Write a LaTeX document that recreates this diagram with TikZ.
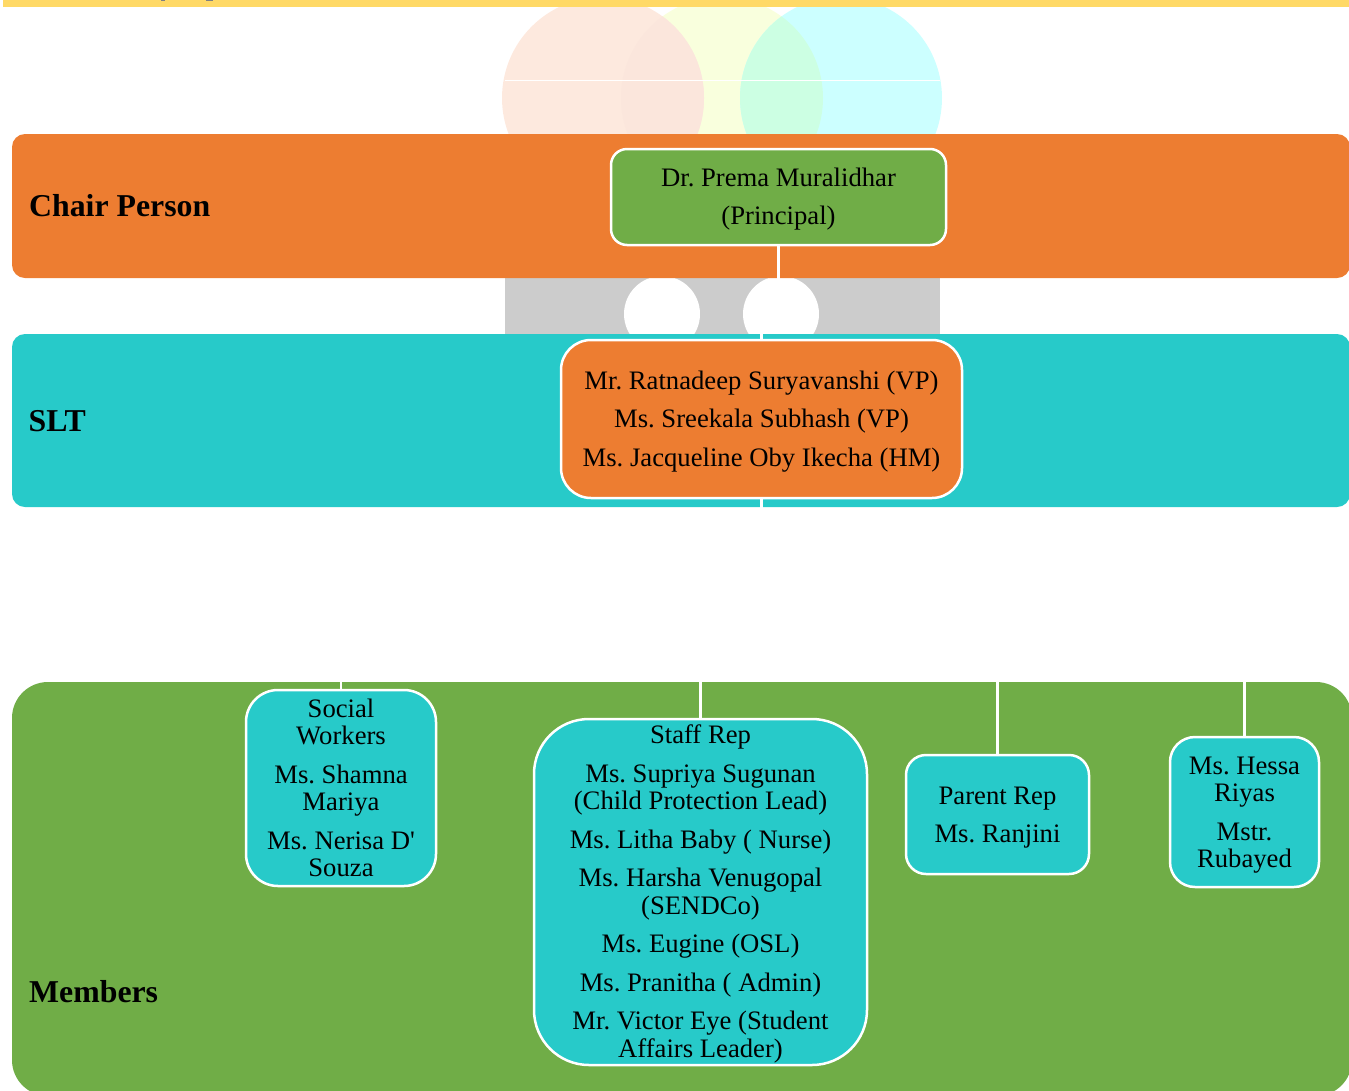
\documentclass[tikz,border=0pt]{standalone}
\usepackage{fontspec}
\setmainfont{Liberation Serif}
\definecolor{cOrange}{HTML}{ED7D31}
\definecolor{cTeal}{HTML}{27CAC9}
\definecolor{cGreen}{HTML}{70AD47}
\definecolor{cBar}{HTML}{FFD966}
\definecolor{cPink}{HTML}{FDE9DE}
\definecolor{cLens}{HTML}{FBE6DC}
\definecolor{cPale}{HTML}{F9FFDD}
\definecolor{cCyan}{HTML}{CCFFFF}
\definecolor{cMint}{HTML}{CCFFE3}
\tikzset{
  member/.style={draw=white,line width=2.5pt,inner sep=0pt,outer sep=0pt,
    font=\fontsize{26.67}{27.5}\selectfont\frenchspacing,text=black},
  bandlabel/.style={anchor=west,inner sep=0pt,font=\fontsize{31.8}{36}\selectfont\bfseries,text=black},
  link/.style={draw=white,line width=2.5pt},
}
\newcommand{\pgap}{\\[11pt]}
\newcommand{\lowered}[2]{\raisebox{-#1}[\height][\depth]{\begin{tabular}{@{}c@{}}#2\end{tabular}}}
\begin{document}
\begin{tikzpicture}[x=1pt,y=-1pt]
\useasboundingbox (0,0) rectangle (1349,1090);
% top bar
\fill[cBar] (3,0) rectangle (1349,7);
\fill[gray] (161,0) rectangle (165,1);
\fill[gray] (206,0) rectangle (213,1.2);
% faded logo
\begin{scope}
  \clip (495,7) rectangle (950,134);
  \fill[cPale] (722,98) circle (101);
  \fill[cPink] (603,98) circle (101);
  \fill[cCyan] (841,98) circle (101);
  \begin{scope}
    \clip (722,98) circle (101);
    \fill[cLens] (603,98) circle (101);
    \fill[cMint] (841,98) circle (101);
  \end{scope}
  \fill[white] (505,79.7) rectangle (940,80.7);
\end{scope}
\fill[black!20] (505,278) rectangle (940,334);
\begin{scope}
  \clip (505,278) rectangle (940,334);
  \fill[white] (662,314) circle (38);
  \fill[white] (781,314) circle (38);
\end{scope}
% bands
\fill[cOrange,rounded corners=13pt] (12,134) rectangle (1350,278);
\fill[cTeal,rounded corners=13pt] (12,334) rectangle (1350,507);
\fill[cGreen,rounded corners=36pt] (12,682) rectangle (1352,1096);
% labels
\node[bandlabel] (lchair) at (29,205.5) {Chair Person};
\node[bandlabel] (lslt) at (28.5,421) {SLT};
\node[bandlabel] (lmem) at (29,991.5) {Members};
% boxes
\node[member,fill=cGreen,rounded corners=16pt,minimum width=335pt,minimum height=96pt]
  (chair) at (778.5,197) {\lowered{3pt}{Dr. Prema Muralidhar\pgap(Principal)}};
\node[member,fill=cOrange,rounded corners=30pt,minimum width=401pt,minimum height=158pt]
  (slt) at (761.5,419) {\lowered{3pt}{Mr. Ratnadeep Suryavanshi (VP)\pgap Ms. Sreekala Subhash (VP)\pgap Ms. Jacqueline Oby Ikecha (HM)}};
\node[member,fill=cTeal,rounded corners=32pt,minimum width=190pt,minimum height=196pt]
  (sw) at (341,788) {\lowered{3.5pt}{Social\\Workers\pgap Ms. Shamna\\Mariya\pgap Ms. Nerisa D\textquotesingle\\Souza}};
\node[member,fill=cTeal,rounded corners=55pt,minimum width=333pt,minimum height=346pt]
  (staff) at (700.5,892) {\lowered{3pt}{Staff Rep\pgap Ms. Supriya Sugunan\\(Child Protection Lead)\pgap Ms. Litha Baby ( Nurse)\pgap Ms. Harsha Venugopal\\(SENDCo)\pgap Ms. Eugine (OSL)\pgap Ms. Pranitha ( Admin)\pgap Mr. Victor Eye (Student\\Affairs Leader)}};
\node[member,fill=cTeal,rounded corners=20pt,minimum width=183pt,minimum height=119pt]
  (parent) at (997.5,814.5) {\lowered{3.5pt}{Parent Rep\pgap Ms. Ranjini}};
\node[member,fill=cTeal,rounded corners=25pt,minimum width=149pt,minimum height=150pt]
  (hessa) at (1244.5,812) {\lowered{3.5pt}{Ms. Hessa\\Riyas\pgap Mstr.\\Rubayed}};
% connectors (white)
\coordinate (e1) at (761.5,306);
\coordinate (bus) at (761.5,600);
\draw[link] (chair.south) |- (e1) -- (slt.north);
\draw[link] (slt.south) -- (bus);
\draw[link] (bus) -| (sw.north);
\draw[link] (bus) -| (staff.north);
\draw[link] (bus) -| (parent.north);
\draw[link] (bus) -| (hessa.north);
\end{tikzpicture}
\end{document}
